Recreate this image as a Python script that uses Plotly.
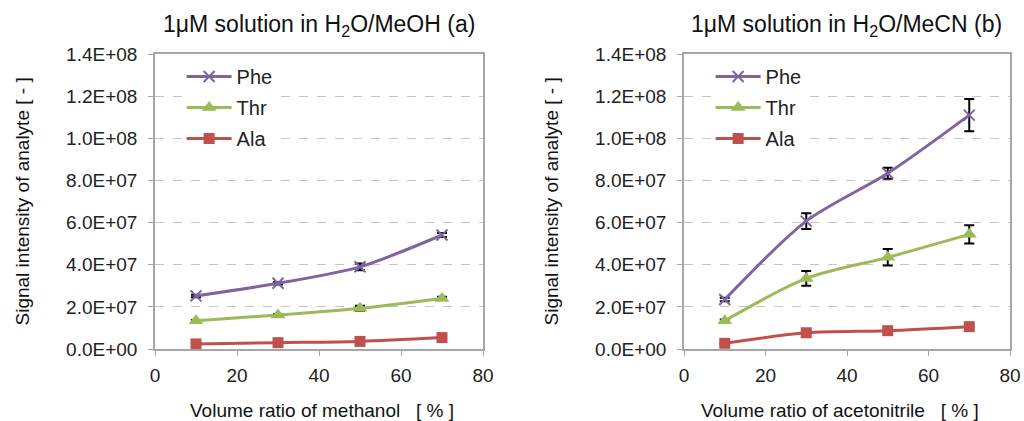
import plotly.graph_objects as go

x_vals = [10, 30, 50, 70]

# Panel (a) H2O/MeOH
a_phe = [2.52e7, 3.12e7, 3.90e7, 5.41e7]
a_phe_err = [0.6e6, 0.6e6, 1.6e6, 1.0e6]
a_thr = [1.34e7, 1.61e7, 1.93e7, 2.40e7]
a_thr_err = [0.4e6, 0.4e6, 1.2e6, 0.8e6]
a_ala = [0.24e7, 0.30e7, 0.36e7, 0.54e7]
a_ala_err = [0.2e6, 0.2e6, 0.3e6, 0.3e6]

# Panel (b) H2O/MeCN
b_phe = [2.35e7, 6.07e7, 8.34e7, 1.11e8]
b_phe_err = [0.8e6, 3.7e6, 2.6e6, 7.7e6]
b_thr = [1.34e7, 3.35e7, 4.35e7, 5.44e7]
b_thr_err = [0.6e6, 3.5e6, 3.9e6, 4.3e6]
b_ala = [0.27e7, 0.77e7, 0.87e7, 1.06e7]
b_ala_err = [0.3e6, 0.5e6, 0.5e6, 0.5e6]

series_names = ["Phe", "Thr", "Ala"]
colors = {"Phe": "#8064A2", "Thr": "#9BBB59", "Ala": "#C0504D"}
symbols = {"Phe": "x-thin", "Thr": "triangle-up", "Ala": "square"}
sizes = {"Phe": 11, "Thr": 13, "Ala": 11}

y_tickvals = [0, 2e7, 4e7, 6e7, 8e7, 1e8, 1.2e8, 1.4e8]
y_ticktext = ["0.0E+00", "2.0E+07", "4.0E+07", "6.0E+07", "8.0E+07", "1.0E+08", "1.2E+08", "1.4E+08"]
x_tickvals = [0, 20, 40, 60, 80]

titles = ["1μM solution in H<sub>2</sub>O/MeOH (a)", "1μM solution in H<sub>2</sub>O/MeCN (b)"]
x_titles = ["Volume ratio of methanol   [ % ]", "Volume ratio of acetonitrile   [ % ]"]
y_title = "Signal intensity of analyte [ - ]"

FONT = "Liberation Sans, Arial, sans-serif"

fig = go.Figure()

panels = [
    ("x", "y", "legend", "a", {"Phe": (a_phe, a_phe_err), "Thr": (a_thr, a_thr_err), "Ala": (a_ala, a_ala_err)}),
    ("x2", "y2", "legend2", "b", {"Phe": (b_phe, b_phe_err), "Thr": (b_thr, b_thr_err), "Ala": (b_ala, b_ala_err)}),
]

for xa, ya, lg, tag, data in panels:
    for name in series_names:
        vals, errs = data[name]
        mk = dict(symbol=symbols[name], size=sizes[name], color=colors[name])
        if name == "Phe":
            mk["line"] = dict(color=colors[name], width=2)
        fig.add_trace(go.Scatter(
            x=x_vals, y=vals, name=name, xaxis=xa, yaxis=ya, legend=lg,
            legendgroup=f"{tag}_{name}",
            mode="lines+markers",
            line=dict(color=colors[name], width=3, shape="spline", smoothing=0.8),
            marker=mk,
            error_y=dict(type="data", array=errs, color="black", thickness=2, width=5),
        ))

axis_common = dict(
    showline=True, linecolor="#A6A6A6", linewidth=1.5, mirror=True,
    ticks="outside", ticklen=5, tickcolor="#A6A6A6",
    tickfont=dict(family=FONT, size=19, color="#222"),
    zeroline=False, automargin=False,
)

doms = [[155 / 1024, 483 / 1024], [684 / 1024, 1010 / 1024]]

for i, (xa, ya) in enumerate([("xaxis", "yaxis"), ("xaxis2", "yaxis2")]):
    anchor_x = "y" if i == 0 else "y2"
    anchor_y = "x" if i == 0 else "x2"
    fig.update_layout({
        xa: dict(axis_common, domain=doms[i], range=[0, 80], tickvals=x_tickvals,
                 showgrid=False, anchor=anchor_x, ticklabelstandoff=3),
        ya: dict(axis_common, domain=[0, 1], range=[0, 1.4e8], tickvals=y_tickvals,
                 ticktext=y_ticktext, showgrid=True, gridcolor="#C4C4C4",
                 griddash="dash", gridwidth=1, anchor=anchor_y, ticklabelstandoff=7),
    })

leg_common = dict(
    bgcolor="white", borderwidth=0, font=dict(family=FONT, size=20, color="#222"),
    itemwidth=45, tracegroupgap=2, xanchor="left", yanchor="top",
)
fig.update_layout(
    legend=dict(leg_common, x=doms[0][0] + 0.026, y=0.99),
    legend2=dict(leg_common, x=doms[1][0] + 0.026, y=0.99),
)

title_x = [319 / 1024, 846 / 1024]
xt_x = [322 / 1024, 840 / 1024]
yt_x = [22 / 1024, 551 / 1024]
ann = []
for i in range(2):
    ann.append(dict(text=titles[i], x=title_x[i], xref="paper", y=1, yref="paper",
                    yshift=29, showarrow=False, xanchor="center", yanchor="middle",
                    font=dict(family=FONT, size=23, color="#111")))
    ann.append(dict(text=x_titles[i], x=xt_x[i], xref="paper", y=0, yref="paper",
                    yshift=-61, showarrow=False, xanchor="center", yanchor="middle",
                    font=dict(family=FONT, size=19, color="#111")))
    ann.append(dict(text=y_title, x=yt_x[i], xref="paper", y=0.5, yref="paper",
                    showarrow=False, xanchor="center", yanchor="middle", textangle=-90,
                    font=dict(family=FONT, size=19, color="#111")))

fig.update_layout(
    annotations=ann,
    width=1024, height=421,
    margin=dict(l=0, r=0, t=54, b=72, autoexpand=False),
    paper_bgcolor="white", plot_bgcolor="white",
    showlegend=True,
)

fig.write_html("out.html", config={"displayModeBar": False},
               post_script="document.body.style.margin='0';document.body.style.overflow='hidden';")
